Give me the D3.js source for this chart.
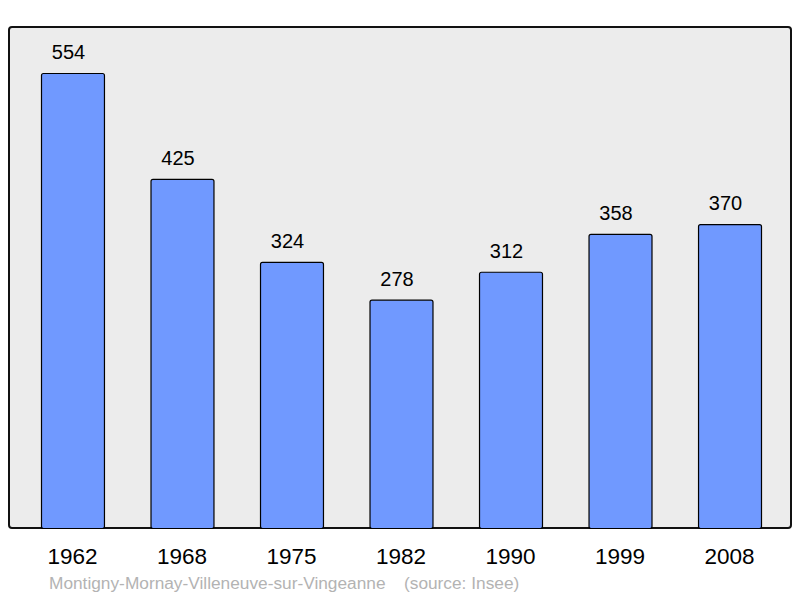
<!DOCTYPE html>
<html>
<head>
<meta charset="utf-8">
<script src="https://cdn.jsdelivr.net/npm/d3@7"></script>
<style>
  body { margin: 0; background: #fff; }
  text { font-family: "Liberation Sans", Arial, sans-serif; }
</style>
</head>
<body>
<div id="chart"></div>
<script>
var years = ['1962', '1968', '1975', '1982', '1990', '1999', '2008'];
var population = [554, 425, 324, 278, 312, 358, 370];
var place = 'Montigny-Mornay-Villeneuve-sur-Vingeanne';
var source = '(source: Insee)';

var width = 800,
    height = 598;

var svg = d3.select('#chart').append('svg')
  .attr('width', width)
  .attr('height', height);

// frame
svg.append('rect')
  .attr('x', 9).attr('y', 27)
  .attr('width', 782).attr('height', 501)
  .attr('rx', 3)
  .attr('fill', '#ececec')
  .attr('stroke', '#111')
  .attr('stroke-width', 2);

var x = d3.scaleBand()
  .domain(years)
  .range([41, 761])
  .paddingInner(0.425)
  .paddingOuter(0);

var y = d3.scaleLinear()
  .domain([0, 610])
  .range([528, 27]);

var data = years.map((d, i) => ({year: d, value: population[i]}));

svg.selectAll('.bar').data(data).enter()
  .append('rect').attr('class', 'bar')
  .attr('x', d => x(d.year) + 0.5)
  .attr('y', d => y(d.value) + 0.5)
  .attr('width', x.bandwidth())
  .attr('height', d => y(0) - y(d.value))
  .attr('rx', 2)
  .attr('fill', '#7099ff')
  .attr('stroke', '#000')
  .attr('stroke-width', 1.2);

svg.selectAll('.val').data(data).enter()
  .append('text').attr('class', 'val')
  .attr('x', d => x(d.year) + x.bandwidth() / 2 - 4)
  .attr('y', d => y(d.value) - 14)
  .attr('text-anchor', 'middle')
  .attr('font-size', 20)
  .attr('fill', '#000')
  .text(d => d.value);

// x axis labels
var xAxis = d3.axisBottom(x).tickSize(0).tickPadding(0);
var gx = svg.append('g')
  .attr('transform', 'translate(0,547)')
  .call(xAxis);
gx.select('.domain').remove();
gx.selectAll('text')
  .attr('font-size', 22.5)
  .attr('font-family', '"Liberation Sans", Arial, sans-serif')
  .attr('fill', '#000')
  .attr('dy', 0).attr('y', 17);

// caption
svg.append('text')
  .attr('x', 49).attr('y', 589)
  .attr('font-size', 17.3)
  .attr('fill', '#b3b3b3')
  .text(place);
svg.append('text')
  .attr('x', 404).attr('y', 589)
  .attr('font-size', 17.3)
  .attr('fill', '#b3b3b3')
  .text(source);
</script>
</body>
</html>
